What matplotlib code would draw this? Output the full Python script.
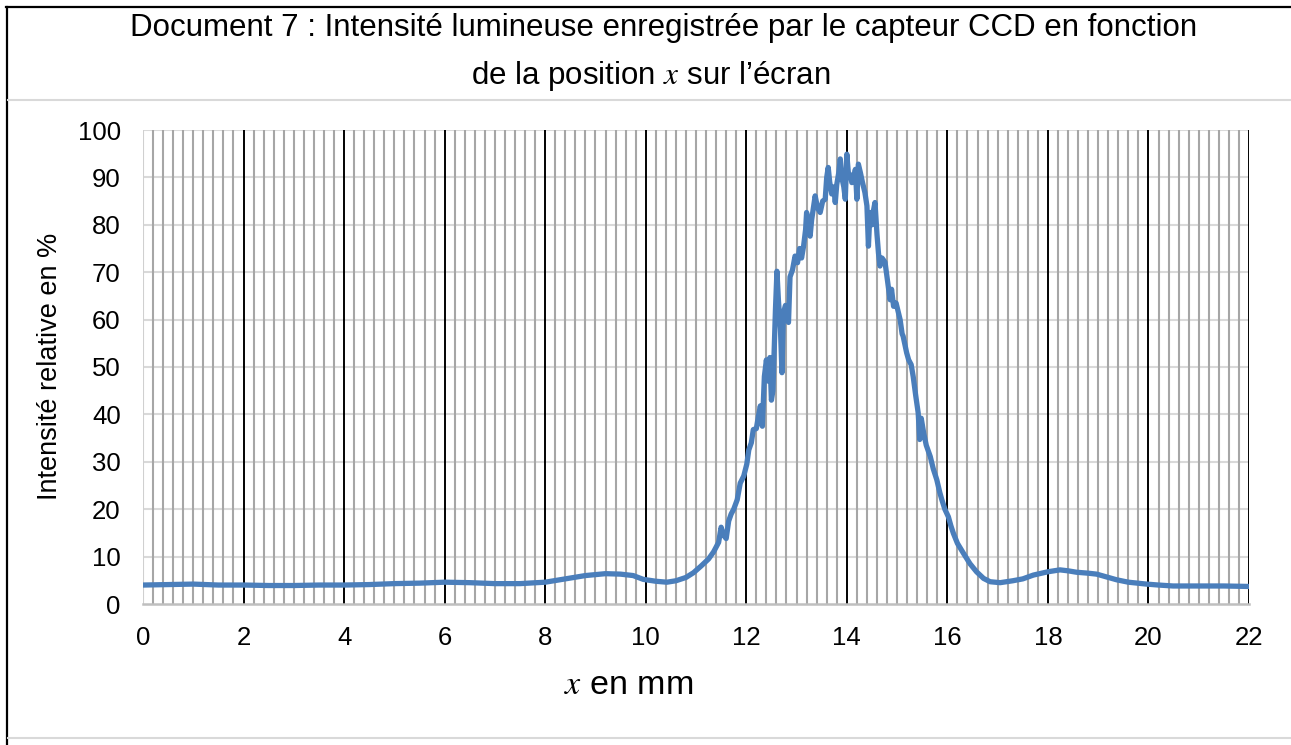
import matplotlib
matplotlib.use("Agg")
import matplotlib.pyplot as plt
from matplotlib.lines import Line2D
from matplotlib import font_manager

plt.rcParams['font.family'] = ['Liberation Sans', 'DejaVu Sans']
plt.rcParams['mathtext.fontset'] = 'stix'

# ---- data ----
x_mm = [0.0, 0.5, 1.0, 1.5, 2.0, 2.5, 3.0, 3.5, 4.0, 4.5, 5.0, 5.5, 6.0, 6.5, 7.0, 7.5,
        8.0, 8.4, 8.8, 9.2, 9.5, 9.75, 9.95, 10.2, 10.42, 10.6, 10.8, 10.95, 11.1, 11.25,
        11.35, 11.45, 11.5, 11.55, 11.6, 11.65, 11.7, 11.75, 11.82, 11.88, 11.95, 12.01,
        12.05, 12.1, 12.14, 12.2, 12.24, 12.28, 12.32, 12.36, 12.4, 12.44, 12.47, 12.5,
        12.53, 12.58, 12.61, 12.64, 12.68, 12.71, 12.74, 12.78, 12.82, 12.84, 12.87, 12.92,
        12.97, 13.02, 13.06, 13.1, 13.14, 13.18, 13.2, 13.24, 13.27, 13.3, 13.34, 13.37,
        13.42, 13.47, 13.52, 13.57, 13.6, 13.63, 13.66, 13.7, 13.74, 13.77, 13.8, 13.84,
        13.87, 13.9, 13.94, 13.97, 14.0, 14.03, 14.07, 14.1, 14.14, 14.17, 14.2, 14.23,
        14.27, 14.31, 14.36, 14.4, 14.43, 14.46, 14.5, 14.53, 14.56, 14.6, 14.63, 14.66,
        14.7, 14.76, 14.8, 14.86, 14.89, 14.93, 14.98, 15.06, 15.1, 15.12, 15.19, 15.23,
        15.28, 15.32, 15.37, 15.42, 15.45, 15.48, 15.53, 15.58, 15.66, 15.72, 15.79, 15.85,
        15.89, 15.95, 16.02, 16.07, 16.12, 16.2, 16.32, 16.45, 16.58, 16.72, 16.85, 17.05,
        17.3, 17.5, 17.71, 18.0, 18.24, 18.4, 18.57, 18.8, 18.97, 19.2, 19.37, 19.6, 19.96,
        20.2, 20.49, 21.0, 21.5, 22.0]
intensity = [4.0, 4.1, 4.2, 4.0, 4.0, 3.9, 3.9, 4.0, 4.0, 4.1, 4.3, 4.4, 4.6, 4.5, 4.3, 4.3,
             4.6, 5.3, 6.0, 6.4, 6.3, 6.0, 5.2, 4.8, 4.6, 4.9, 5.6, 6.6, 8.0, 9.5,
             11.0, 13.0, 16.2, 14.5, 13.8, 17.5, 19.0, 20.0, 22.0, 25.5, 27.0, 29.5,
             32.5, 34.0, 36.8, 37.0, 39.5, 41.8, 37.5, 48.0, 51.5, 47.0, 52.0, 43.0,
             45.0, 62.0, 70.2, 64.0, 58.0, 48.8, 61.5, 63.0, 60.0, 59.4, 69.0, 70.5,
             73.4, 72.0, 75.0, 73.0, 75.5, 79.0, 82.6, 80.0, 77.6, 81.0, 84.0, 86.1,
             83.5, 82.6, 85.0, 85.4, 90.0, 92.1, 89.0, 86.5, 88.0, 84.7, 88.5, 91.0,
             93.9, 90.0, 88.0, 85.4, 94.9, 91.0, 90.5, 88.9, 90.0, 91.7, 85.4, 92.8,
             91.0, 89.0, 86.8, 84.0, 75.5, 82.6, 80.0, 83.0, 84.7, 78.0, 74.0, 71.3,
             73.0, 72.1, 69.0, 64.2, 66.4, 62.8, 63.5, 60.0, 57.0, 56.5, 53.0, 51.5,
             50.5, 48.0, 44.0, 40.3, 34.7, 39.2, 36.0, 33.5, 31.1, 28.5, 26.2, 23.5,
             22.0, 20.0, 18.4, 16.5, 14.9, 12.8, 10.7, 8.5, 6.8, 5.4, 4.7, 4.5,
             4.9, 5.3, 6.1, 6.8, 7.2, 7.0, 6.7, 6.5, 6.3, 5.6, 5.1, 4.6, 4.2,
             4.0, 3.8, 3.8, 3.8, 3.7]

x_ticks = [0, 2, 4, 6, 8, 10, 12, 14, 16, 18, 20, 22]
y_ticks = [0, 10, 20, 30, 40, 50, 60, 70, 80, 90, 100]

title_line1 = "Document 7 : Intensité lumineuse enregistrée par le capteur CCD en fonction"
title_line2 = "de la position $x$ sur l\u2019écran"
x_label = "$x$ en mm"
y_label = "Intensité relative en %"

installed = {f.name for f in font_manager.fontManager.ttflist}
narrow = 'Liberation Sans Narrow' if 'Liberation Sans Narrow' in installed else 'Liberation Sans'

W, H = 1291, 745
fig = plt.figure(figsize=(W / 100, H / 100), dpi=100)


def fx(px):
    return px / W


def fy(py):
    return 1 - py / H


# frame lines
fig.add_artist(Line2D([fx(7), fx(7)], [fy(7), fy(745)], color='black', lw=1.6))
fig.add_artist(Line2D([fx(6.2), fx(1291)], [fy(7), fy(7)], color='black', lw=1.6))
fig.add_artist(Line2D([fx(8), fx(1291)], [fy(99.5), fy(99.5)], color='#d9d9d9', lw=1.5))
fig.add_artist(Line2D([fx(8), fx(1291)], [fy(738), fy(738)], color='#d9d9d9', lw=1.5))

fig.text(fx(664), fy(28), title_line1, ha='center', va='center', fontsize=22.5)
fig.text(fx(651), fy(76), title_line2, ha='center', va='center', fontsize=22.5)

ax = fig.add_axes([fx(143), fy(604), fx(1249) - fx(143), fy(130) - fy(604)])
ax.set_xlim(0, 22)
ax.set_ylim(0, 100)

# grid
for yv in y_ticks[1:]:
    ax.axhline(yv, color='#d9d9d9', lw=1.5, zorder=1)
minor_x = [i * 0.2 for i in range(0, 111)]
for i, xv in enumerate(minor_x):
    if i % 10 == 0:
        ax.axvline(xv, color='black', lw=1.4, zorder=2)
    else:
        ax.axvline(xv, color='#a6a6a6', lw=1.5, zorder=1.5)
ax.axvline(0, color='#d0d0d0', lw=1.5, zorder=2.1)

ax.plot(x_mm, intensity, color='#4a7ebb', lw=3.8, zorder=5, solid_joinstyle='round')

for s in ['top', 'right', 'left']:
    ax.spines[s].set_visible(False)
ax.spines['bottom'].set_color('#bfbfbf')
ax.spines['bottom'].set_linewidth(1.8)
ax.spines['bottom'].set_zorder(6)

ax.set_xticks(x_ticks)
ax.set_yticks(y_ticks)
ax.tick_params(axis='both', length=0, labelsize=18.5)
ax.tick_params(axis='x', pad=16)
ax.tick_params(axis='y', pad=16)

fig.text(fx(629), fy(686), x_label, ha='center', va='center', fontsize=24.5, family=[narrow, 'DejaVu Sans'])
fig.text(fx(50), fy(366), y_label, ha='center', va='center', rotation=90, fontsize=19.5)

fig.savefig("out.png", dpi=100)
